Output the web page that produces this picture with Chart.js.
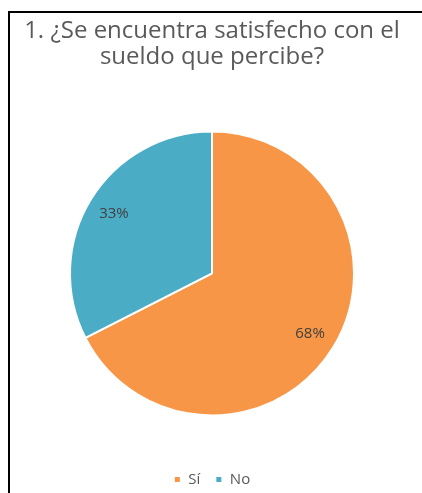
<!DOCTYPE html>
<html>
<head>
<meta charset="utf-8">
<script src="https://cdn.jsdelivr.net/npm/chart.js@4/dist/chart.umd.min.js"></script>
<style>
  html, body { margin: 0; padding: 0; background: #fff; }
  #wrap { position: relative; width: 422px; height: 493px; overflow: hidden; }
  #frame { position: absolute; left: 8px; top: 11px; right: -10px; bottom: -10px;
           border-top: 2px solid #000; border-left: 2px solid #000; pointer-events: none; }
  canvas { position: absolute; left: 0; top: 0; }
</style>
</head>
<body>
<div id="wrap">
  <canvas id="chart" width="422" height="493"></canvas>
  <div id="frame"></div>
</div>
<script>
// data
const categories = ["Sí", "No"];
const values = [67.5, 32.5];
const colors = ["#F79646", "#4BACC6"];
const titleLines = ["1. ¿Se encuentra satisfecho con el", "sueldo que percibe?"];

// percent labels inside the slices
const sliceLabels = {
    id: "sliceLabels",
    afterDatasetsDraw(chart) {
        const ctx = chart.ctx;
        const meta = chart.getDatasetMeta(0);
        const total = values.reduce((a, b) => a + b, 0);
        ctx.save();
        ctx.font = "15px 'Open Sans'";
        ctx.fillStyle = "#404040";
        ctx.textAlign = "center";
        ctx.textBaseline = "middle";
        meta.data.forEach((arc, i) => {
            const mid = (arc.startAngle + arc.endAngle) / 2;
            const r = arc.outerRadius * 0.81;
            const x = arc.x + Math.cos(mid) * r;
            const y = arc.y + Math.sin(mid) * r;
            ctx.fillText(Math.round(values[i] / total * 100) + "%", x, y);
        });
        ctx.restore();
    }
};

new Chart(document.getElementById("chart").getContext("2d"), {
    type: "pie",
    data: {
        labels: categories,
        datasets: [{
            data: values,
            backgroundColor: colors,
            borderColor: "#fff",
            borderWidth: 2,
            radius: 142
        }]
    },
    options: {
        responsive: false,
        animation: false,
        layout: { padding: { top: 18, bottom: -4, left: 2 } },
        plugins: {
            title: {
                display: true,
                text: titleLines,
                color: "#595959",
                font: { family: "Open Sans", size: 24, weight: "normal", lineHeight: 1.08 },
                padding: { top: 0, bottom: 20 }
            },
            legend: {
                position: "bottom",
                labels: {
                    usePointStyle: true,
                    pointStyle: "rect",
                    boxWidth: 7,
                    boxHeight: 7,
                    color: "#595959",
                    font: { family: "Open Sans", size: 15 },
                    padding: 15
                }
            },
            tooltip: { enabled: false }
        }
    },
    plugins: [sliceLabels]
});
</script>
</body>
</html>
